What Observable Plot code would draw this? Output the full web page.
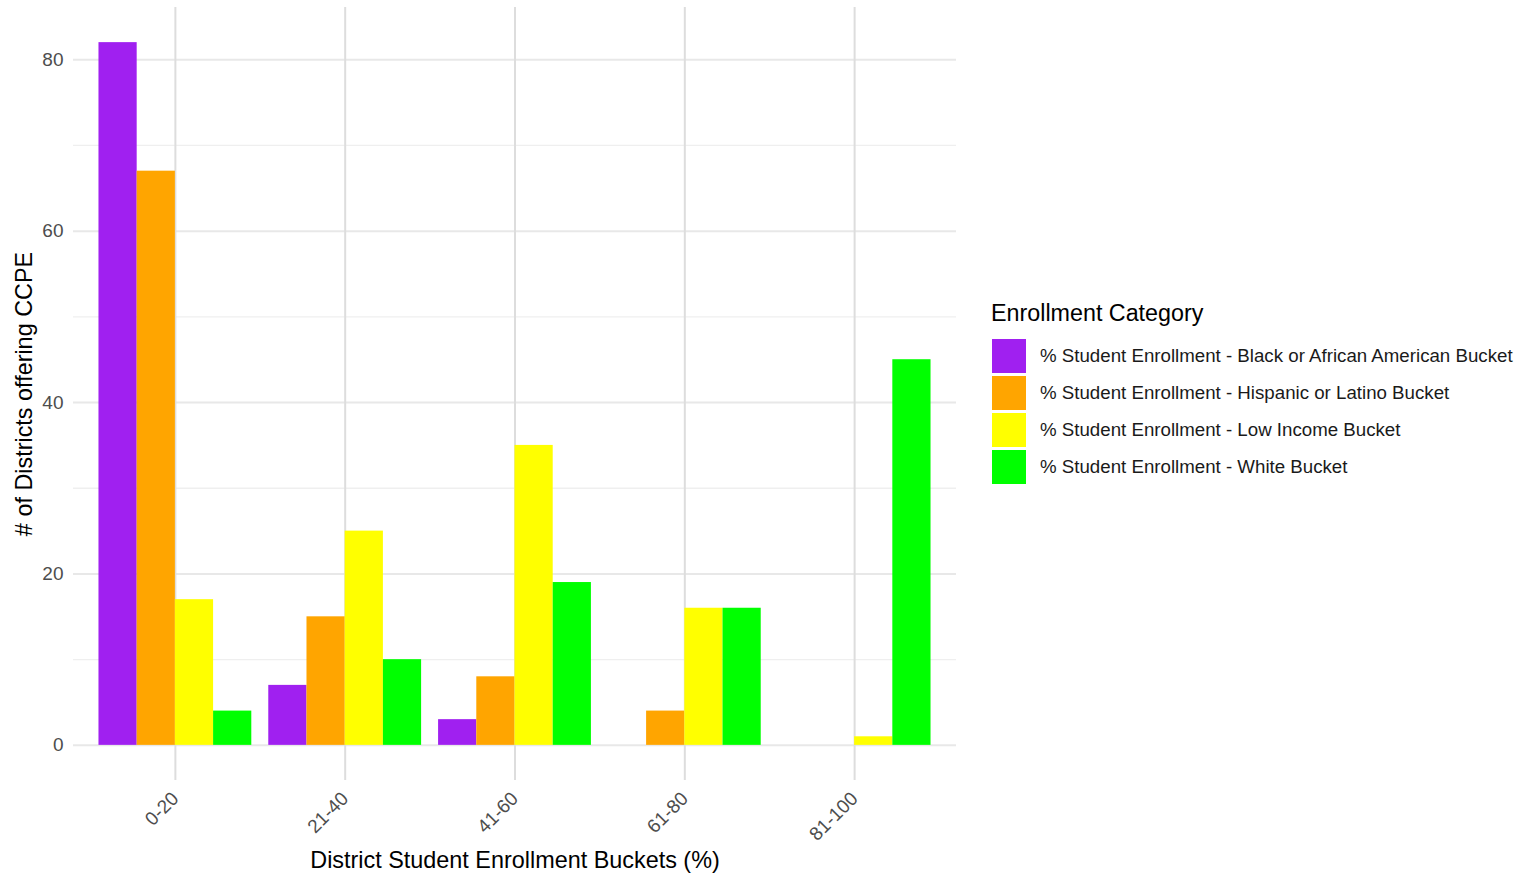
<!DOCTYPE html>
<html>
<head>
<meta charset="utf-8">
<script src="https://cdn.jsdelivr.net/npm/d3@7"></script>
<script src="https://cdn.jsdelivr.net/npm/@observablehq/plot@0.6"></script>
<style>
  html, body { margin: 0; padding: 0; background: #fff; }
  body { width: 1531px; height: 873px; position: relative; font-family: Arial, "Liberation Sans", Helvetica, sans-serif; overflow: hidden; }
  #chart { position: absolute; left: 0; top: 0; }
  #legend { position: absolute; left: 991px; top: 299px; color: #000; }
  #legend .title { font-size: 23.3px; margin-bottom: 10px; line-height: 28px; }
  #legend .item { display: flex; align-items: center; height: 37px; }
  #legend .key { width: 34px; height: 34px; margin-left: 1px; margin-right: 14px; }
  #legend .lab { font-size: 18.7px; color: #1a1a1a; }
</style>
</head>
<body>
<div id="chart"></div>
<div id="legend"></div>
<script>
// ---- data ----
const buckets = ["0-20", "21-40", "41-60", "61-80", "81-100"];
const categories = [
  "% Student Enrollment - Black or African American Bucket",
  "% Student Enrollment - Hispanic or Latino Bucket",
  "% Student Enrollment - Low Income Bucket",
  "% Student Enrollment - White Bucket"
];
const colors = ["#A020F0", "#FFA500", "#FFFF00", "#00FF00"];
const blackValues    = [82, 7, 3, null, null];
const hispanicValues = [67, 15, 8, 4, null];
const lowIncomeValues = [17, 25, 35, 16, 1];
const whiteValues    = [4, 10, 19, 16, 45];
const yMajorTicks = [0, 20, 40, 60, 80];
const yMinorTicks = [10, 30, 50, 70];
const xTitle = "District Student Enrollment Buckets (%)";
const yTitle = "# of Districts offering CCPE";
const legendTitle = "Enrollment Category";

const series = [blackValues, hispanicValues, lowIncomeValues, whiteValues];
const rows = [];
series.forEach((vals, k) => {
  vals.forEach((v, i) => {
    if (v != null) rows.push({bucket: buckets[i], i, k, category: categories[k], value: v});
  });
});

const groupWidth = 0.9;
const barW = groupWidth / categories.length;
const idx = buckets.map((_, i) => i);
const yMax = d3.max(rows, d => d.value);
const pad = yMax * 0.05;

const plot = Plot.plot({
  width: 975,
  height: 873,
  marginLeft: 73,
  marginRight: 19,
  marginTop: 7,
  marginBottom: 93,
  style: {fontFamily: "Arial, 'Liberation Sans', Helvetica, sans-serif", background: "#fff"},
  x: {type: "linear", domain: [-0.6, buckets.length - 1 + 0.6]},
  y: {domain: [-pad, yMax + pad]},
  color: {domain: categories, range: colors},
  marks: [
    Plot.ruleY(yMinorTicks, {stroke: "#efefef", strokeWidth: 1.3}),
    Plot.gridY({ticks: yMajorTicks, stroke: "#e8e8e8", strokeOpacity: 1, strokeWidth: 2}),
    Plot.gridX({ticks: idx, stroke: "#dddddd", strokeOpacity: 1, strokeWidth: 2}),
    Plot.rectY(rows, {
      x1: d => d.i - groupWidth / 2 + d.k * barW,
      x2: d => d.i - groupWidth / 2 + (d.k + 1) * barW,
      y1: 0,
      y2: "value",
      fill: "category"
    }),
    Plot.axisY({ticks: yMajorTicks, tickSize: 0, tickPadding: 10, fontSize: 19, fill: "#4d4d4d", label: null}),
    Plot.axisX({ticks: idx, tickFormat: i => buckets[i], tickRotate: -45, tickSize: 0, tickPadding: 15, fontSize: 19, fill: "#4d4d4d", label: null}),
    Plot.text([xTitle], {text: d => d, frameAnchor: "bottom", dy: 87, fontSize: 23.4, fill: "#000"}),
    Plot.text([yTitle], {text: d => d, frameAnchor: "left", textAnchor: "middle", rotate: -90, dx: -49, fontSize: 23.4, fill: "#000"})
  ]
});
document.getElementById("chart").appendChild(plot);

const legend = document.getElementById("legend");
const t = document.createElement("div");
t.className = "title";
t.textContent = legendTitle;
legend.appendChild(t);
categories.forEach((c, k) => {
  const item = document.createElement("div");
  item.className = "item";
  const key = document.createElement("div");
  key.className = "key";
  key.style.background = colors[k];
  const lab = document.createElement("div");
  lab.className = "lab";
  lab.textContent = c;
  item.appendChild(key);
  item.appendChild(lab);
  legend.appendChild(item);
});
</script>
</body>
</html>
